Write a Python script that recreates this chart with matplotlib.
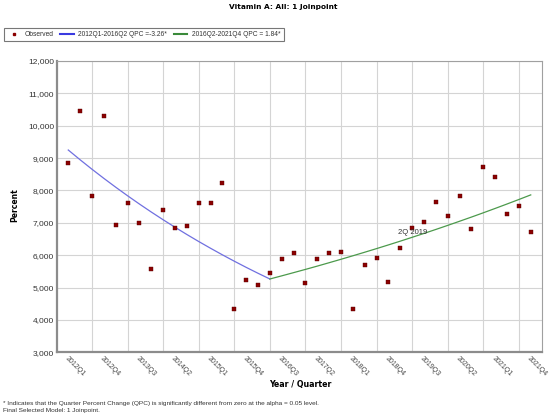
import matplotlib
matplotlib.use('Agg')
import matplotlib.pyplot as plt
from matplotlib.lines import Line2D

# Quarters 2012Q1 .. 2021Q4
quarters = [f'{y}Q{q}' for y in range(2012, 2022) for q in range(1, 5)]

observed = [8840, 10445, 7830, 10300, 6940, 7620, 6995, 5575, 7385, 6830,
            6900, 7605, 7620, 8220, 4340, 5225, 5080, 5460, 5875, 6070,
            5150, 5890, 6075, 6110, 4340, 5700, 5925, 5170, 6230, 6850,
            7025, 7645, 7220, 7840, 6810, 8735, 8425, 7270, 7520, 6705]

# Fitted joinpoint segments
seg1_x = list(range(0, 18))
seg1_y = [9250, 8948, 8656, 8374, 8101, 7837, 7581, 7334, 7095, 6864,
          6640, 6423, 6214, 6011, 5815, 5625, 5442, 5265]
seg2_x = list(range(17, 40))
seg2_y = [5265, 5362, 5461, 5561, 5663, 5768, 5874, 5982, 6092, 6204,
          6318, 6434, 6553, 6673, 6796, 6921, 7049, 7178, 7310, 7445,
          7582, 7721, 7863]

label_obs = 'Observed'
label_seg1 = '2012Q1-2016Q2 QPC =-3.26*'
label_seg2 = '2016Q2-2021Q4 QPC = 1.84*'

tick_idx = list(range(0, 40, 3))
grid_idx = list(range(2, 40, 3))

fig = plt.figure(figsize=(5.5, 4.16), dpi=100)
ax = fig.add_axes([57/550, 1 - 352.3/416, 485/550, 291.3/416])

ax.plot(seg1_x, seg1_y, color='#7070e0', linewidth=0.9, zorder=2)
ax.plot(seg2_x, seg2_y, color='#4c9a4c', linewidth=0.9, zorder=2)
ax.scatter(range(len(observed)), observed, marker='s', s=9, color='#8b0000',
           edgecolors='#5a0000', linewidths=0.3, zorder=3)

ax.text(29, 6700, '2Q 2019', fontsize=5.5, color='#333333', ha='center',
        va='center', family='Liberation Sans')

ax.set_xlim(-0.95, 39.95)
ax.set_ylim(3000, 12000)
ax.set_yticks(range(3000, 12001, 1000))
ax.set_yticklabels([f'{v:,}' for v in range(3000, 12001, 1000)],
                   fontsize=6, color='#333333', family='Liberation Sans')
ax.set_xticks(tick_idx)
ax.set_xticklabels([quarters[i] for i in tick_idx], rotation=-45, ha='left',
                   va='top', rotation_mode='anchor', fontsize=5,
                   color='#444444', family='Liberation Sans')
ax.set_xticks(grid_idx, minor=True)
ax.tick_params(axis='both', which='both', length=0, pad=2)
ax.grid(False)
ax.yaxis.grid(True, color='#d4d4d4', linewidth=0.8)
ax.xaxis.grid(True, which='minor', color='#d4d4d4', linewidth=0.8)
ax.set_axisbelow(True)

for s in ['top', 'right']:
    ax.spines[s].set_color('#a0a0a0')
    ax.spines[s].set_linewidth(0.8)
for s in ['left', 'bottom']:
    ax.spines[s].set_color('#8c8c8c')
    ax.spines[s].set_linewidth(1.6)

fig.text(283/550, 1 - 6.5/416, 'Vitamin A: All: 1 Joinpoint', ha='center', va='center',
         fontsize=5.3, fontweight='bold', family='DejaVu Sans')
fig.text(300/550, 1 - 385/416, 'Year / Quarter', ha='center', va='center',
         fontsize=5.7, fontweight='bold', family='DejaVu Sans')
fig.text(15/550, 1 - 205/416, 'Percent', ha='center', va='center', rotation=90,
         fontsize=5.5, fontweight='bold', family='DejaVu Sans')
fig.text(3/550, 1 - 403/416,
         '* Indicates that the Quarter Percent Change (QPC) is significantly different from zero at the alpha = 0.05 level.',
         ha='left', va='center', fontsize=4.65, color='#333333', family='Liberation Sans')
fig.text(3/550, 1 - 410.5/416, 'Final Selected Model: 1 Joinpoint.',
         ha='left', va='center', fontsize=4.65, color='#333333', family='Liberation Sans')

handles = [
    Line2D([], [], marker='s', linestyle='none', markersize=2, color='#8b0000'),
    Line2D([], [], color='#3a3ae0', linewidth=1.5),
    Line2D([], [], color='#3a8a3a', linewidth=1.5),
]
leg = fig.legend(handles, [label_obs, label_seg1, label_seg2], ncol=3,
                 loc='upper left', bbox_to_anchor=(3.5/550, 1 - 27.5/416),
                 frameon=True, fancybox=False, edgecolor='#555555',
                 prop={'family': 'Liberation Sans', 'size': 4.8},
                 handlelength=2.0, handletextpad=0.7, columnspacing=1.0,
                 borderpad=0.5, borderaxespad=0)
leg.get_frame().set_linewidth(0.8)
for t in leg.get_texts():
    t.set_color('#333333')

fig.savefig('out.png', dpi=100)
